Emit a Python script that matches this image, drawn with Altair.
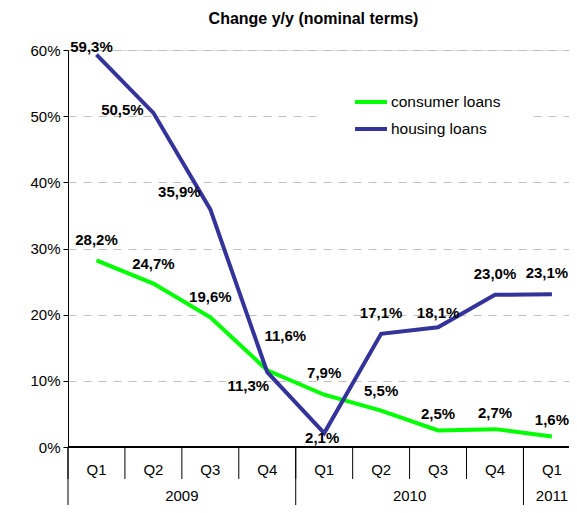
import altair as alt
import pandas as pd

# ---- data ----
quarters = ["Q1", "Q2", "Q3", "Q4", "Q1", "Q2", "Q3", "Q4", "Q1"]
years = ["2009", "2009", "2009", "2009", "2010", "2010", "2010", "2010", "2011"]
consumer_loans = [28.2, 24.7, 19.6, 11.6, 7.9, 5.5, 2.5, 2.7, 1.6]
housing_loans = [59.3, 50.5, 35.9, 11.3, 2.1, 17.1, 18.1, 23.0, 23.1]
series_names = ["consumer loans", "housing loans"]
y_ticks = [0, 10, 20, 30, 40, 50, 60]
title_text = "Change y/y (nominal terms)"

# ---- tables ----
rows = []
for name, vals in zip(series_names, [consumer_loans, housing_loans]):
    for i, v in enumerate(vals):
        rows.append({
            "idx": i, "quarter": quarters[i], "year": years[i],
            "series": name, "value": v,
            "label": f"{v:.1f}".replace(".", ",") + "%",
        })
df = pd.DataFrame(rows)
cats = pd.DataFrame({"idx": list(range(len(quarters))), "quarter": quarters, "year": years})

# ---- style ----
FONT = "Liberation Sans"
W, H = 501, 397
series_colors = ["#00FF00", "#333399"]

x_scale = alt.Scale(domain=[-0.5, 8.3], nice=False, zero=False)
y_scale = alt.Scale(domain=[0, 60], nice=False)

y_axis = alt.Axis(
    values=y_ticks, labelExpr="datum.value + '%'", title=None,
    grid=True, gridDash=[8, 7], gridColor="#c0c0c0", gridWidth=1,
    domainColor="black", domainWidth=1, tickColor="black", tickSize=5,
    labelFontSize=15, labelFont=FONT, labelColor="black", labelPadding=3,
)

base = alt.Chart(df)

lines = base.mark_line(strokeWidth=4).encode(
    x=alt.X("idx:Q", scale=x_scale, axis=None),
    y=alt.Y("value:Q", scale=y_scale, axis=y_axis),
    color=alt.Color(
        "series:N",
        scale=alt.Scale(domain=series_names, range=series_colors),
        legend=alt.Legend(
            title=None, orient="none", legendX=255, legendY=4,
            symbolType="stroke", symbolStrokeWidth=4, symbolSize=1024,
            labelFontSize=15.5, labelFont=FONT, labelColor="black",
            labelOffset=2, rowPadding=-5, padding=30, fillColor="white",
            direction="vertical",
        ),
    ),
)

placements = [
    ("consumer loans", [0, 1, 2, 5], 0, -20),
    ("consumer loans", [4], 0, -22),
    ("consumer loans", [3], 18, -34),
    ("consumer loans", [6, 7, 8], 0, -16),
    ("housing loans", [0], -5, -8),
    ("housing loans", [1], -31, -3),
    ("housing loans", [2], -31, -17),
    ("housing loans", [3], -19, 14),
    ("housing loans", [4], -2, 5),
    ("housing loans", [5, 7], 0, -21),
    ("housing loans", [8], -5, -21),
    ("housing loans", [6], 0, -14),
]

label_layers = []
for s, idxs, dx, dy in placements:
    label_layers.append(
        base.transform_filter(alt.datum.series == s)
        .transform_filter(alt.FieldOneOfPredicate(field="idx", oneOf=idxs))
        .mark_text(dx=dx, dy=dy, fontSize=15, fontWeight="bold", font=FONT,
                   color="black", baseline="middle", align="center")
        .encode(
            x=alt.X("idx:Q", scale=x_scale),
            y=alt.Y("value:Q", scale=y_scale),
            text="label:N",
        )
    )

cat_base = alt.Chart(cats)

zero_line = cat_base.mark_rule(color="black", strokeWidth=1).encode(
    y=alt.Y(datum=0, scale=y_scale)
)

quarter_seps = cat_base.transform_calculate(b="datum.idx - 0.5").mark_rule(
    color="black", strokeWidth=1
).encode(x=alt.X("b:Q", scale=x_scale), y=alt.value(H), y2=alt.value(H + 32))

year_seps = cat_base.transform_aggregate(
    first="min(idx)", groupby=["year"]
).transform_calculate(b="datum.first - 0.5").mark_rule(
    color="black", strokeWidth=1
).encode(x=alt.X("b:Q", scale=x_scale), y=alt.value(H), y2=alt.value(H + 70))

quarter_labels = cat_base.mark_text(
    fontSize=15, font=FONT, color="black", baseline="middle", align="center"
).encode(x=alt.X("idx:Q", scale=x_scale), y=alt.value(H + 23), text="quarter:N")

year_labels = cat_base.transform_aggregate(
    center="mean(idx)", groupby=["year"]
).mark_text(
    fontSize=15, font=FONT, color="black", baseline="middle", align="center"
).encode(x=alt.X("center:Q", scale=x_scale), y=alt.value(H + 49), text="year:N")

chart = alt.layer(
    lines, *label_layers, zero_line, quarter_seps, year_seps, quarter_labels, year_labels
).properties(
    width=W, height=H,
    title=alt.TitleParams(
        title_text, font=FONT, fontSize=16, fontWeight="bold", color="black",
        anchor="middle", dx=-5, offset=13,
    ),
    autosize=alt.AutoSizeParams(type="none"),
    padding={"left": 60, "top": 42, "right": 0, "bottom": 58},
).configure_view(stroke=None).configure(background="white")

chart.save("out.html", embed_options={"renderer": "svg", "actions": False})
